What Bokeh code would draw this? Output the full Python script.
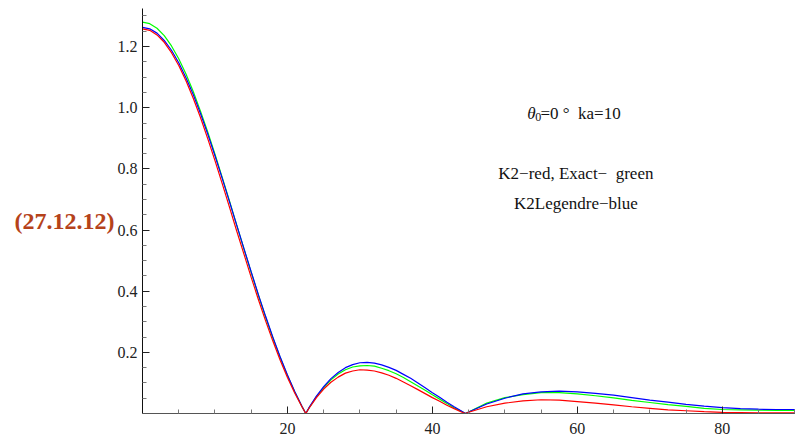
from bokeh.plotting import figure
from bokeh.models import FixedTicker, PrintfTickFormatter, Label
from bokeh.embed import file_html
from bokeh.resources import INLINE

# angle in degrees
theta = [0, 1, 2, 3, 4, 5, 6, 7, 8, 9, 10, 11, 12, 13, 14, 15, 16, 17, 18, 19, 20, 21, 22,
         22.53,
         23, 24, 25, 26, 27, 28, 29, 30, 31, 32, 33, 34, 35, 36, 37, 38, 39, 40, 41, 42, 43, 44,
         44.55, 45,
         47.5, 50, 52.5, 55, 57.5, 60, 62.5, 65, 67.5, 70, 72.5, 75, 77.5, 80, 82.5, 85, 87.5, 90]

k2_red = [1.258, 1.253, 1.238, 1.214, 1.180, 1.138, 1.088, 1.031, 0.968, 0.899, 0.827, 0.752,
          0.675, 0.597, 0.521, 0.445, 0.372, 0.302, 0.236, 0.174, 0.118, 0.067, 0.022,
          0.0,
          0.018, 0.052, 0.080, 0.102, 0.119, 0.132, 0.139, 0.143, 0.142, 0.139, 0.133, 0.125,
          0.115, 0.103, 0.091, 0.078, 0.065, 0.052, 0.040, 0.027, 0.016, 0.005,
          0.0, 0.004,
          0.022, 0.034, 0.041, 0.045, 0.044, 0.039, 0.034, 0.028, 0.022, 0.017, 0.012, 0.009,
          0.006, 0.004, 0.003, 0.002, 0.002, 0.002]

exact_green = [1.280, 1.275, 1.260, 1.236, 1.202, 1.160, 1.110, 1.053, 0.989, 0.921, 0.848, 0.772,
               0.695, 0.616, 0.538, 0.461, 0.386, 0.314, 0.246, 0.183, 0.124, 0.071, 0.023,
               0.0,
               0.019, 0.055, 0.085, 0.110, 0.129, 0.143, 0.152, 0.156, 0.157, 0.155, 0.148, 0.140,
               0.130, 0.118, 0.104, 0.090, 0.076, 0.061, 0.047, 0.033, 0.019, 0.007,
               0.0, 0.005,
               0.034, 0.052, 0.062, 0.068, 0.068, 0.064, 0.058, 0.051, 0.043, 0.036, 0.029, 0.023,
               0.017, 0.013, 0.012, 0.011, 0.010, 0.010]

k2legendre_blue = [1.263, 1.258, 1.244, 1.220, 1.188, 1.147, 1.098, 1.043, 0.981, 0.914, 0.843, 0.769,
                   0.693, 0.616, 0.539, 0.463, 0.388, 0.317, 0.249, 0.185, 0.126, 0.072, 0.024,
                   0.0,
                   0.020, 0.057, 0.088, 0.114, 0.134, 0.150, 0.160, 0.166, 0.167, 0.165, 0.159, 0.151,
                   0.141, 0.128, 0.115, 0.100, 0.084, 0.068, 0.053, 0.037, 0.022, 0.008,
                   0.0, 0.005,
                   0.031, 0.050, 0.064, 0.071, 0.073, 0.071, 0.066, 0.060, 0.052, 0.044, 0.037, 0.030,
                   0.024, 0.019, 0.016, 0.014, 0.013, 0.013]

x_major = [20, 40, 60, 80]
x_minor = [5, 10, 15, 25, 30, 35, 45, 50, 55, 65, 70, 75, 85, 90]
y_major = [0.2, 0.4, 0.6, 0.8, 1.0, 1.2]
y_minor = [0.05, 0.1, 0.15, 0.25, 0.3, 0.35, 0.45, 0.5, 0.55, 0.65, 0.7, 0.75,
           0.85, 0.9, 0.95, 1.05, 1.1, 1.15, 1.25, 1.3]

FONT = "Liberation Serif"

p = figure(width=795, height=441, x_range=(0, 90.1), y_range=(0, 1.3245),
           output_backend="svg", toolbar_location=None,
           min_border_left=142, min_border_right=0, min_border_top=8, min_border_bottom=28)
p.outline_line_color = None
p.grid.visible = False
p.background_fill_color = "white"
p.border_fill_color = "white"

p.xaxis.ticker = FixedTicker(ticks=x_major, minor_ticks=x_minor)
p.yaxis.ticker = FixedTicker(ticks=y_major, minor_ticks=y_minor)
p.xaxis.formatter = PrintfTickFormatter(format="%d")
p.yaxis.formatter = PrintfTickFormatter(format="%.1f")

for ax in (p.xaxis, p.yaxis):
    ax.major_tick_in = 7
    ax.major_tick_out = 0
    ax.minor_tick_in = 4
    ax.minor_tick_out = 0
    ax.major_tick_line_color = "#222222"
    ax.minor_tick_line_color = "#777777"
    ax.major_label_text_font = FONT
    ax.major_label_text_font_size = "16px"
    ax.major_label_text_color = "#222222"
p.xaxis.axis_line_color = "#555555"
p.yaxis.axis_line_color = "#111111"
p.xaxis.major_label_standoff = 9
p.yaxis.major_label_standoff = 5

# side label shown left of the vertical axis
p.yaxis.axis_label = "\n(27.12.12)"
p.yaxis.axis_label_orientation = "horizontal"
p.yaxis.axis_label_text_font = FONT
p.yaxis.axis_label_text_font_style = "bold"
p.yaxis.axis_label_text_font_size = "24px"
p.yaxis.axis_label_text_color = "#B5421A"
p.yaxis.axis_label_text_line_height = 0.8
p.yaxis.axis_label_standoff = 0

p.line(theta, exact_green, line_color="#00FF00", line_width=1.2)
p.line(theta, k2legendre_blue, line_color="#0000FF", line_width=1.2)
p.line(theta, k2_red, line_color="#FF0000", line_width=1.2)

p.add_layout(Label(x=53.1, y=0.982, text="θ", text_align="left", text_baseline="alphabetic",
                   text_font=FONT, text_font_style="italic", text_font_size="17px", text_color="#111111"))
p.add_layout(Label(x=54.2, y=0.969, text="0", text_align="left", text_baseline="alphabetic",
                   text_font=FONT, text_font_size="12px", text_color="#111111"))
p.add_layout(Label(x=54.9, y=0.982, text="=0\u00a0°\u00a0\u00a0ka=10", text_align="left",
                   text_baseline="alphabetic", text_font=FONT, text_font_size="17px", text_color="#111111"))
p.add_layout(Label(x=59.8, y=0.786, text="K2\u2212red, Exact\u2212\u00a0\u00a0green", text_align="center",
                   text_baseline="alphabetic", text_font=FONT, text_font_size="17px", text_color="#111111"))
p.add_layout(Label(x=59.8, y=0.688, text="K2Legendre\u2212blue", text_align="center",
                   text_baseline="alphabetic", text_font=FONT, text_font_size="17px", text_color="#111111"))

open("out.html", "w").write(file_html(p, INLINE))
